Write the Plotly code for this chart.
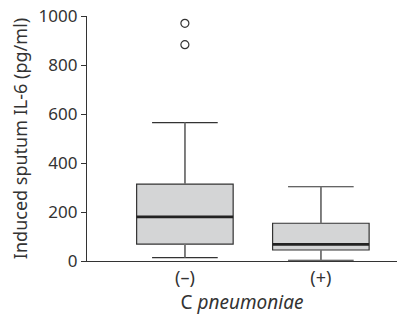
import plotly.graph_objects as go

categories = ["(–)", "(+)"]
positions = [0, 1]
q1 = [69, 45]
median = [180, 68]
q3 = [314, 154]
lowerfence = [14, 3]
upperfence = [565, 303]
outlier_x = [0, 0]
outlier_y = [970, 883]

box_width = 0.71
font_family = "'Noto Sans', sans-serif"
text_color = "#333333"

fig = go.Figure()
fig.add_trace(go.Box(
    x=positions, q1=q1, median=median, q3=q3,
    lowerfence=lowerfence, upperfence=upperfence,
    width=box_width, whiskerwidth=0.68,
    fillcolor="#d4d5d6", line=dict(color="#333333", width=1.2),
    boxpoints=False, showlegend=False, hoverinfo="skip",
))
# grey vertical whisker stems
for xi, lo, a, b, hi in zip(positions, lowerfence, q1, q3, upperfence):
    for y0, y1 in ((b, hi), (lo, a)):
        fig.add_trace(go.Scatter(
            x=[xi, xi], y=[y0, y1], mode="lines",
            line=dict(color="#7a7a7a", width=1.6),
            showlegend=False, hoverinfo="skip",
        ))
# thicker median lines
for xi, m in zip(positions, median):
    fig.add_trace(go.Scatter(
        x=[xi - box_width / 2, xi + box_width / 2], y=[m, m],
        mode="lines", line=dict(color="#222222", width=2.6),
        showlegend=False, hoverinfo="skip",
    ))
fig.add_trace(go.Scatter(
    x=outlier_x, y=outlier_y, mode="markers",
    marker=dict(symbol="circle-open", size=8, color="#333333", line=dict(width=1.2)),
    showlegend=False, hoverinfo="skip",
))

fig.update_layout(
    width=397, height=318,
    margin=dict(l=87, r=0, t=16, b=57),
    plot_bgcolor="white", paper_bgcolor="white",
    font=dict(family=font_family, color=text_color, size=17),
    xaxis=dict(
        range=[-0.72, 1.56], tickvals=positions, ticktext=categories,
        showline=True, linecolor="#333333", linewidth=1.2,
        ticks="", showgrid=False, zeroline=False, automargin=False,
        tickfont=dict(size=18),
        title=dict(text="C <i>pneumoniae</i>", font=dict(size=19), standoff=4),
    ),
    yaxis=dict(
        range=[0, 1000], tickvals=[0, 200, 400, 600, 800, 1000],
        showline=True, linecolor="#333333", linewidth=1.2,
        ticks="outside", ticklen=5, tickcolor="#333333",
        showgrid=False, zeroline=False, automargin=False,
        tickfont=dict(size=17),
        title=dict(text="Induced sputum IL-6 (pg/ml)", font=dict(size=18), standoff=6),
    ),
)

fig.write_html("out.html", config={"displayModeBar": False},
               post_script="document.body.style.margin='0';")
